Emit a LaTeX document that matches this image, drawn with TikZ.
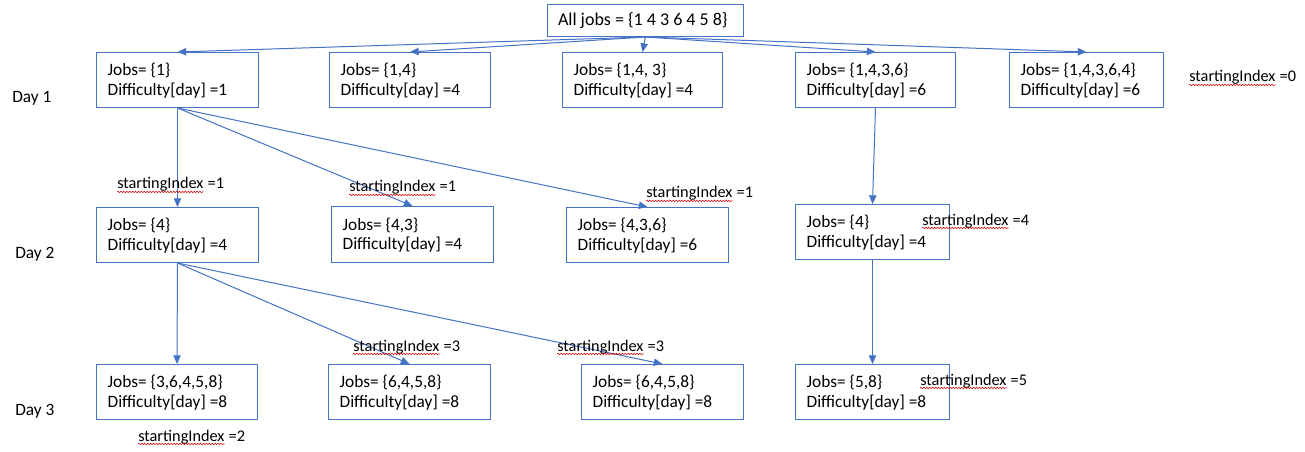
\documentclass[tikz,border=0pt]{standalone}
\usepackage{fontspec}
\setmainfont{Carlito}
\usetikzlibrary{arrows.meta,decorations.pathmorphing}
\definecolor{offblue}{HTML}{4472C4}
\tikzset{
  jbox/.style={draw=offblue, line width=0.75pt, rectangle, inner sep=0pt, anchor=north west},
  txt/.style={font=\fontsize{13pt}{14.6pt}\selectfont, text=black, align=left, inner sep=0pt},
  lbl/.style={font=\fontsize{13pt}{14.6pt}\selectfont, text=black, inner sep=0pt, anchor=base west},
  idx/.style={lbl, font=\fontsize{12.2pt}{14pt}\selectfont},
  arr/.style={draw=offblue, line width=0.75pt, -{Triangle[length=6.5pt,width=5.5pt]}},
  squig/.style={draw=red!85!black, line width=0.4pt, decorate, decoration={snake, amplitude=0.55pt, segment length=2.2pt}}
}
\newcommand\mkbox[7]{% name, x1, y1, x2, y2, line1, line2
  \node[jbox, minimum width={0.75pt*(#4-#2)}, minimum height={0.75pt*(#5-#3)}] (#1) at (#2,#3) {};
  \node[txt, anchor=west] (#1t) at ([xshift=8.5pt,yshift=-0.5pt]#1.west) {#6\\#7};
}
\newcommand\sidx[4]{% name, x, baseline y, number
  \node[idx] (#1) at (#2,#3) {startingIndex};
  \draw[squig] ([yshift=-2.2pt]#1.base west) -- ([yshift=-2.2pt]#1.base east);
  \node[idx] (#1n) at (#1.base east) {\ =#4};
}
\begin{document}
\begin{tikzpicture}[x=0.75pt,y=-0.75pt]
\fill[white] (0,0) rectangle (1305,452);
\useasboundingbox (0,0) rectangle (1305,452);

% top node
\node[jbox, minimum width={0.75pt*196}, minimum height={0.75pt*32}] (top) at (547,4) {};
\node[txt, font=\fontsize{13.5pt}{15pt}\selectfont] (topt) at ([xshift=-2pt]top.center) {All jobs = \{1 4 3 6 4 5 8\}};

% day 1
\mkbox{b11}{96}{52}{258}{107}{Jobs= \{1\}}{Difficulty[day] =1}
\mkbox{b12}{329}{52}{490}{107}{Jobs= \{1,4\}}{Difficulty[day] =4}
\mkbox{b13}{562}{52}{722}{107}{Jobs= \{1,4, 3\}}{Difficulty[day] =4}
\mkbox{b14}{795}{52}{955}{107}{Jobs= \{1,4,3,6\}}{Difficulty[day] =6}
\mkbox{b15}{1009}{52}{1163}{107}{Jobs= \{1,4,3,6,4\}}{Difficulty[day] =6}

% day 2
\mkbox{b21}{96}{207}{258}{262}{Jobs= \{4\}}{Difficulty[day] =4}
\mkbox{b22}{331}{206}{493}{262}{Jobs= \{4,3\}}{Difficulty[day] =4}
\mkbox{b23}{566}{207}{728}{262}{Jobs= \{4,3,6\}}{Difficulty[day] =6}
\mkbox{b24}{795}{204}{949}{259}{Jobs= \{4\}}{Difficulty[day] =4}

% day 3
\mkbox{b31}{96}{364}{257}{419}{Jobs= \{3,6,4,5,8\}}{Difficulty[day] =8}
\mkbox{b32}{328}{364}{490}{419}{Jobs= \{6,4,5,8\}}{Difficulty[day] =8}
\mkbox{b33}{581}{364}{743}{419}{Jobs= \{6,4,5,8\}}{Difficulty[day] =8}
\mkbox{b34}{795}{364}{949}{419}{Jobs= \{5,8\}}{Difficulty[day] =8}

% connectors
\foreach \b in {b11,b12,b13,b14,b15} \draw[arr] (top.south) -- (\b.north);
\foreach \b in {b21,b22,b23} \draw[arr] (b11.south) -- (\b.north);
\foreach \b in {b31,b32,b33} \draw[arr] (b21.south) -- (\b.north);
\draw[arr] (b14.south) -- (b24.north);
\draw[arr] (b24.south) -- (b34.north);

% day labels
\node[lbl] (d1) at (12,103) {Day 1};
\node[lbl] (d2) at (15,258) {Day 2};
\node[lbl] (d3) at (15,415) {Day 3};

% startingIndex labels
\sidx{s0}{1189}{82}{0}
\sidx{s1}{117}{189}{1}
\sidx{s2}{349}{192}{1}
\sidx{s3}{646}{198}{1}
\sidx{s4}{922}{225}{4}
\sidx{s5}{353}{351}{3}
\sidx{s6}{557}{351}{3}
\sidx{s7}{920}{385}{5}
\sidx{s8}{138}{441}{2}
\end{tikzpicture}
\end{document}
